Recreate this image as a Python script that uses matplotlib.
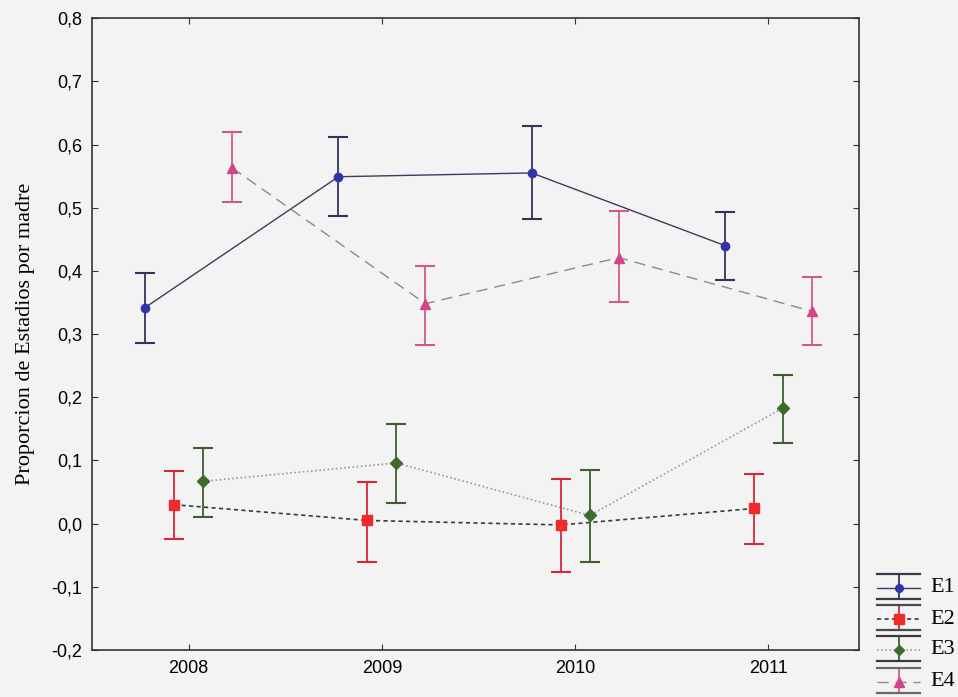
import matplotlib
matplotlib.use("Agg")
import matplotlib.pyplot as plt
from matplotlib.lines import Line2D
import numpy as np

years = [2008, 2009, 2010, 2011]
series = ["E1", "E2", "E3", "E4"]
means = {
    "E1": [0.342, 0.549, 0.555, 0.440],
    "E2": [0.030, 0.005, -0.002, 0.024],
    "E3": [0.067, 0.096, 0.013, 0.183],
    "E4": [0.563, 0.348, 0.421, 0.336],
}
upper = {
    "E1": [0.396, 0.612, 0.629, 0.493],
    "E2": [0.084, 0.066, 0.071, 0.078],
    "E3": [0.120, 0.157, 0.085, 0.236],
    "E4": [0.619, 0.407, 0.495, 0.390],
}
lower = {
    "E1": [0.286, 0.487, 0.482, 0.385],
    "E2": [-0.024, -0.060, -0.076, -0.032],
    "E3": [0.010, 0.032, -0.061, 0.128],
    "E4": [0.509, 0.283, 0.350, 0.283],
}
yticks = [-0.2, -0.1, 0.0, 0.1, 0.2, 0.3, 0.4, 0.5, 0.6, 0.7, 0.8]
ylabel = "Proporcion de Estadios por madre"

offsets = {"E1": -0.225, "E2": -0.075, "E3": 0.075, "E4": 0.225}
styles = {
    "E1": dict(marker="o", mfc="#2f35a8", mec="#2f35a8", ms=6, line="#3c3c5c", ls="-", lw=1.0, err="#34345a"),
    "E2": dict(marker="s", mfc="#ee2a2a", mec="#ee2a2a", ms=7, line="#3a3a3a", ls=(0, (2.5, 2)), lw=1.2, err="#d82838"),
    "E3": dict(marker="D", mfc="#3d6b2c", mec="#3d6b2c", ms=6, line="#9a9a9a", ls=(0, (1, 1.5)), lw=1.2, err="#3e5e2e"),
    "E4": dict(marker="^", mfc="#d4448a", mec="#d4448a", ms=7, line="#8a8a8a", ls=(0, (8, 5)), lw=1.0, err="#d05a88"),
}
capcol = {"E1": "#3a3a4a", "E2": "#4a4a4a", "E3": "#3a3a3a", "E4": "#6a6a6a"}

bg = "#f3f3f3"
fig = plt.figure(figsize=(9.58, 6.97), dpi=100, facecolor=bg)
ax = fig.add_axes([0.096, 0.0674, 0.801, 0.9066])
ax.set_facecolor(bg)

for s in series:
    st = styles[s]
    x = np.array(years) + offsets[s]
    m = np.array(means[s])
    yerr = np.vstack([m - np.array(lower[s]), np.array(upper[s]) - m])
    ax.plot(x, m, color=st["line"], ls=st["ls"], lw=st["lw"], zorder=2)
    eb = ax.errorbar(x, m, yerr=yerr, fmt="none", ecolor=st["err"], elinewidth=1.3,
                     capsize=7, capthick=1.5, zorder=3)
    for cl in eb[1]:
        cl.set_color(capcol[s])
    ax.plot(x, m, ls="none", marker=st["marker"], mfc=st["mfc"], mec=st["mec"], ms=st["ms"], zorder=4)

ax.set_xlim(2007.5, 2011.47)
ax.set_ylim(-0.2, 0.8)
ax.set_xticks(years)
ax.set_xticklabels([str(y) for y in years], family="Liberation Sans", fontsize=13)
ax.set_yticks(yticks)
ax.set_yticklabels([f"{v:.1f}".replace(".", ",") for v in yticks], family="Liberation Sans", fontsize=13)
ax.tick_params(direction="in", length=4, top=True, right=True, color="#333333", pad=7)
for sp in ax.spines.values():
    sp.set_color("#333333")
    sp.set_linewidth(1.2)
ax.set_ylabel(ylabel, family="Liberation Serif", fontsize=16, labelpad=12)

# manual legend (outside bottom right, partially clipped like reference)
W, H = 958.0, 697.0
def fx(px):
    return px / W
def fy(py):
    return 1 - py / H
leg_y = [588, 619, 650, 682]
x0, x1, xm = 877, 920, 899
for s, yy in zip(series, leg_y):
    st = styles[s]
    fig.add_artist(Line2D([fx(x0), fx(x1)], [fy(yy), fy(yy)], transform=fig.transFigure,
                          color=st["line"], ls=st["ls"], lw=st["lw"]))
    fig.add_artist(Line2D([fx(xm), fx(xm)], [fy(yy - 14), fy(yy + 11)], transform=fig.transFigure,
                          color=st["err"], lw=1.3))
    for cy in (yy - 14, yy + 11):
        fig.add_artist(Line2D([fx(x0), fx(x1)], [fy(cy), fy(cy)], transform=fig.transFigure,
                              color=capcol[s], lw=1.6))
    fig.add_artist(Line2D([fx(xm)], [fy(yy)], transform=fig.transFigure, ls="none",
                          marker=st["marker"], mfc=st["mfc"], mec=st["mec"], ms=st["ms"] - 0.5))
    fig.text(fx(930), fy(yy), s, family="Liberation Serif", fontsize=16, va="center", ha="left")

fig.savefig("out.png", dpi=100, facecolor=bg)
